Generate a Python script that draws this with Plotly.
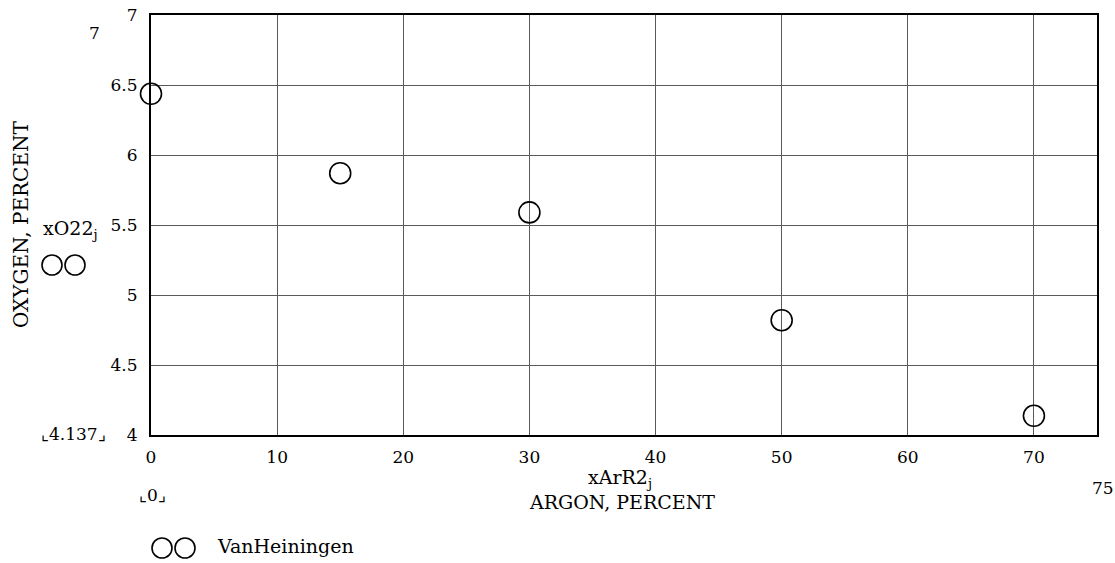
import plotly.graph_objects as go

# Data
argon_pct = [0, 15, 30, 50, 70]
oxygen_pct = [6.437, 5.87, 5.59, 4.82, 4.137]
x_ticks = [0, 10, 20, 30, 40, 50, 60, 70]
y_ticks = [4, 4.5, 5, 5.5, 6, 6.5, 7]
y_tick_text = ["4", "4.5", "5", "5.5", "6", "6.5", "7"]

W, H = 1115, 563
L, R, T, B = 151, 1097, 15, 435  # plot area in page pixels
FONT = "DejaVu Serif"


def px(xp):
    return (xp - L) / (R - L)


def py(yp):
    return (B - yp) / (B - T)


fig = go.Figure()
fig.add_trace(go.Scatter(
    x=argon_pct, y=oxygen_pct, mode="markers",
    marker=dict(symbol="circle-open", size=21, color="black", line=dict(width=1.6, color="black")),
    name="VanHeiningen", showlegend=False, cliponaxis=False,
))

annotations = []


def txt(x, y, s, size=19, angle=0, xanchor="center"):
    annotations.append(dict(
        x=px(x), y=py(y), xref="paper", yref="paper", text=s, showarrow=False,
        font=dict(family=FONT, size=size, color="black"), textangle=angle,
        xanchor=xanchor, yanchor="middle", borderpad=0,
    ))


txt(94, 33, "7", size=17)
txt(73, 434, "⌞4.137⌟", size=17)
txt(152, 495, "⌞0⌟", size=17)
txt(1103, 488, "75", size=17)
txt(620, 478, "xArR2<sub>j</sub>")
txt(622, 502, "ARGON, PERCENT")
txt(21, 224, "OXYGEN, PERCENT", size=20, angle=-90)
txt(70, 229, "xO22<sub>j</sub>")
txt(216, 546, "VanHeiningen", xanchor="left")

shapes = []


def circ(cx, cy, d=20):
    shapes.append(dict(
        type="circle", xref="paper", yref="paper", xsizemode="pixel", ysizemode="pixel",
        xanchor=px(cx), yanchor=py(cy), x0=-d / 2, x1=d / 2, y0=-d / 2, y1=d / 2,
        line=dict(color="black", width=1.6),
    ))


circ(162, 548)
circ(185, 548)
circ(52, 265)
circ(75, 265)

fig.update_layout(
    width=W, height=H,
    margin=dict(l=L, r=W - R, t=T, b=H - B, autoexpand=False),
    paper_bgcolor="white", plot_bgcolor="white",
    font=dict(family=FONT, size=17, color="black"),
    annotations=annotations, shapes=shapes,
    xaxis=dict(range=[0, 75], tickvals=x_ticks, ticks="", showgrid=True,
               gridcolor="#5a5a5a", gridwidth=1, zeroline=False, automargin=False,
               showline=True, linecolor="black", linewidth=2, mirror=True,
               ticklabelstandoff=6, ticklabeloverflow="allow", fixedrange=True),
    yaxis=dict(range=[4, 7], tickvals=y_ticks, ticktext=y_tick_text, ticks="",
               showgrid=True, gridcolor="#5a5a5a", gridwidth=1, zeroline=False, automargin=False,
               showline=True, linecolor="black", linewidth=2, mirror=True,
               ticklabelstandoff=8, ticklabeloverflow="allow", fixedrange=True),
)

fig.write_html(
    "out.html",
    config={"displayModeBar": False, "staticPlot": True},
    post_script="document.body.style.margin='0';document.body.style.overflow='hidden';",
)
